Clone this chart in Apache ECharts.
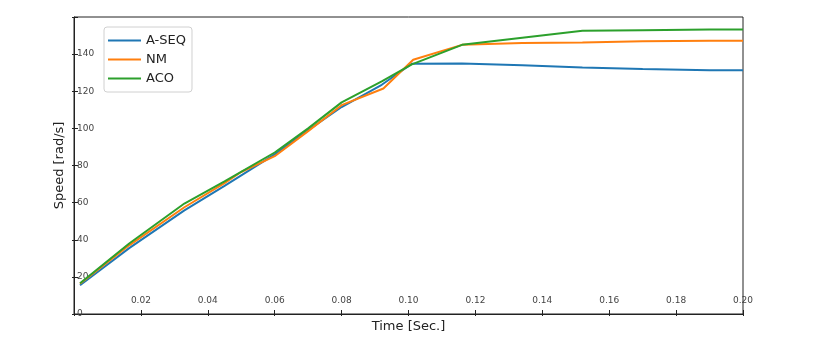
<!DOCTYPE html>
<html>
<head>
<meta charset="utf-8">
<script src="https://cdn.jsdelivr.net/npm/echarts@6/dist/echarts.min.js"></script>
<style>html,body{margin:0;padding:0;background:#fff}#c{width:840px;height:357px}</style>
</head>
<body>
<div id="c"></div>
<script>
const seriesNames = ['A-SEQ', 'NM', 'ACO'];
const aseqTime  = [0.0018, 0.0165, 0.033, 0.045, 0.06, 0.07, 0.08, 0.092, 0.101, 0.116, 0.134, 0.152, 0.17, 0.19, 0.2];
const aseqSpeed = [15.5, 35.5, 55.8, 69, 86, 99, 111.5, 123.5, 134.8, 134.9, 134, 132.8, 132, 131.3, 131.3];
const nmTime    = [0.0018, 0.0165, 0.033, 0.045, 0.05, 0.06, 0.07, 0.08, 0.0925, 0.1014, 0.116, 0.134, 0.152, 0.17, 0.19, 0.2];
const nmSpeed   = [16.3, 37, 57.5, 70.5, 76.5, 85, 98.5, 112.5, 121.5, 137, 145, 146, 146.2, 147, 147.2, 147.2];
const acoTime   = [0.0018, 0.0165, 0.033, 0.045, 0.06, 0.07, 0.08, 0.092, 0.101, 0.116, 0.134, 0.152, 0.17, 0.19, 0.2];
const acoSpeed  = [16.6, 38, 59.5, 71.5, 87, 100, 114, 125.3, 134.5, 145, 148.8, 152.6, 152.9, 153.2, 153.2];
const colors = ['#1f77b4', '#ff7f0e', '#2ca02c'];
const xTickStep = 0.02, yTickStep = 20;

function pairs(t, v) { return t.map((x, i) => [x, v[i]]); }
const font = 'DejaVu Sans';

const chart = echarts.init(document.getElementById('c'), null, {renderer: 'canvas'});
const xBase = {type: 'value', min: 0, max: 0.2, interval: xTickStep, position: 'bottom', splitLine: {show: false}};
const yBase = {type: 'value', min: 0, max: 160, interval: yTickStep, position: 'left', splitLine: {show: false}};
chart.setOption({
  animation: false,
  color: colors,
  grid: {left: 74, right: 97, top: 17, bottom: 43, show: true, borderColor: '#222', borderWidth: 1, backgroundColor: 'transparent'},
  legend: {
    left: 104, top: 27, orient: 'vertical',
    data: seriesNames,
    icon: 'path://M0,0L33,0L33,2L0,2Z',
    itemWidth: 33, itemHeight: 14, itemGap: 6,
    padding: [7, 6, 7, 4],
    borderColor: '#d0d0d0', borderWidth: 1, borderRadius: 3, backgroundColor: '#fff',
    textStyle: {fontFamily: font, fontSize: 13, color: '#222'}
  },
  xAxis: [
    Object.assign({}, xBase, {
      name: 'Time [Sec.]', nameLocation: 'middle', nameGap: 5,
      nameTextStyle: {fontFamily: font, fontSize: 13, color: '#222', verticalAlign: 'top'},
      axisLine: {show: true, lineStyle: {color: '#222', width: 1}},
      axisTick: {show: true, inside: true, length: 4, lineStyle: {color: '#222'}},
      axisLabel: {show: true, inside: true, margin: 9, fontFamily: font, fontSize: 9, color: '#444',
        formatter: v => (Math.abs(v) < 1e-9 ? '' : v.toFixed(2))}
    }),
    Object.assign({}, xBase, {
      axisLine: {show: false},
      axisTick: {show: true, inside: false, length: 2, lineStyle: {color: '#222'}},
      axisLabel: {show: false}
    })
  ],
  yAxis: [
    Object.assign({}, yBase, {
      name: 'Speed [rad/s]', nameLocation: 'middle', nameGap: 7,
      nameTextStyle: {fontFamily: font, fontSize: 13, color: '#222'},
      axisLine: {show: true, lineStyle: {color: '#222', width: 1}},
      axisTick: {show: true, inside: true, length: 4, lineStyle: {color: '#222'}},
      axisLabel: {show: true, inside: true, margin: 3, fontFamily: font, fontSize: 9, color: '#444',
        formatter: v => (v >= 160 ? '' : String(v))}
    }),
    Object.assign({}, yBase, {
      axisLine: {show: false},
      axisTick: {show: true, inside: false, length: 2, lineStyle: {color: '#222'}},
      axisLabel: {show: false}
    })
  ],
  series: [
    {name: seriesNames[0], type: 'line', data: pairs(aseqTime, aseqSpeed)},
    {name: seriesNames[1], type: 'line', data: pairs(nmTime, nmSpeed)},
    {name: seriesNames[2], type: 'line', data: pairs(acoTime, acoSpeed)}
  ].map(s => Object.assign(s, {symbol: 'none', showSymbol: false, lineStyle: {width: 2}, z: 3}))
});
</script>
</body>
</html>
